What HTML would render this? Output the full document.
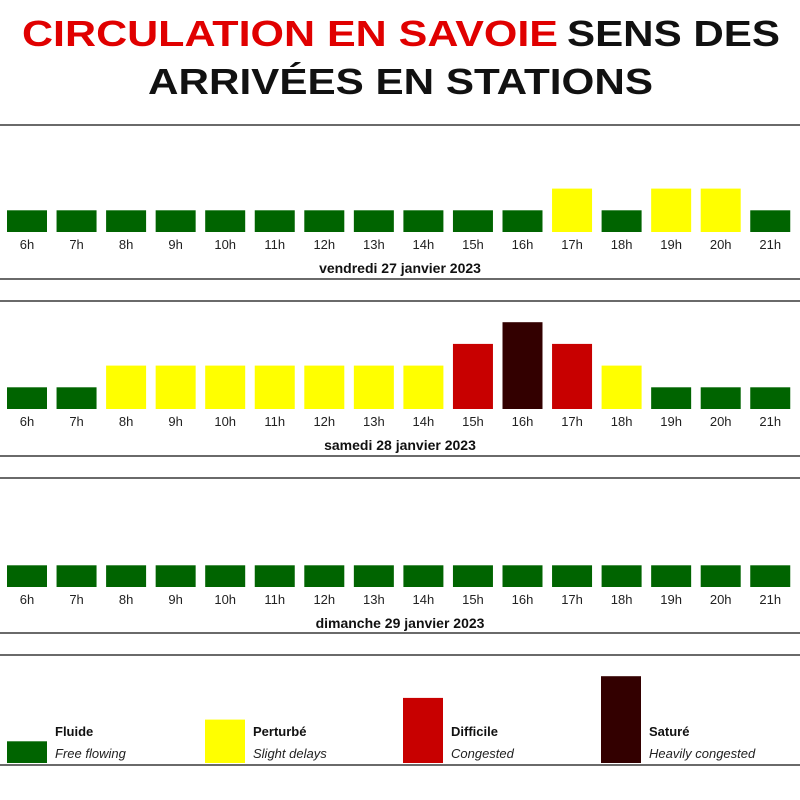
<!DOCTYPE html>
<html><head><meta charset="utf-8"><style>
html,body{margin:0;padding:0;background:#fff;}
svg{display:block;font-family:"Liberation Sans",Arial,sans-serif;}
</style></head><body>
<svg id="chart" width="800" height="800" viewBox="0 0 800 800">
<text x="22" y="46" font-size="36" font-weight="bold" fill="#e00000" textLength="536" lengthAdjust="spacingAndGlyphs">CIRCULATION EN SAVOIE</text>
<text x="567" y="46" font-size="36" font-weight="bold" fill="#111" textLength="213" lengthAdjust="spacingAndGlyphs">SENS DES</text>
<text x="148" y="94" font-size="36" font-weight="bold" fill="#111" textLength="505" lengthAdjust="spacingAndGlyphs">ARRIVÉES EN STATIONS</text>
<g id="g"></g>
</svg>
<script>
const hours = ["6h","7h","8h","9h","10h","11h","12h","13h","14h","15h","16h","17h","18h","19h","20h","21h"];
const dayLabels = ["vendredi 27 janvier 2023","samedi 28 janvier 2023","dimanche 29 janvier 2023"];
const friday = [1,1,1,1,1,1,1,1,1,1,1,2,1,2,2,1];
const saturday = [1,1,2,2,2,2,2,2,2,3,4,3,2,1,1,1];
const sunday = [1,1,1,1,1,1,1,1,1,1,1,1,1,1,1,1];
const levelNames = ["Fluide","Perturbé","Difficile","Saturé"];
const levelDescs = ["Free flowing","Slight delays","Congested","Heavily congested"];
const colors = ["#006400","#ffff00","#c80000","#330000"];

const NS="http://www.w3.org/2000/svg";
const g=document.getElementById('g');
function mk(tag,attrs,txt){const e=document.createElementNS(NS,tag);for(const k in attrs)e.setAttribute(k,attrs[k]);if(txt!=null)e.textContent=txt;g.appendChild(e);return e;}
const xPos=i=>7+i*49.55;
const barW=40;
const hScale=lv=>lv*21.7;

[[125,279],[301,456],[478,633],[655,765]].forEach((p,i)=>{
  p.forEach(y=>{const l=mk('line',{x1:0,x2:800,y1:y,y2:y,stroke:'#6a6a6a','stroke-width':2});
  
  });
});

const days=[friday,saturday,sunday];
const bases=[232,409,587];
days.forEach((vals,d)=>{
  const base=bases[d];
  vals.forEach((v,i)=>{
    const h=hScale(v);
    const r=mk('rect',{x:xPos(i),y:base-h,width:barW,height:h,fill:colors[v-1]});
    
    
    const t=mk('text',{x:xPos(i)+barW/2,y:base+17,'font-size':13,'text-anchor':'middle',fill:'#222'},hours[i]);
    
    
  });
  const dl=mk('text',{x:400,y:base+41,'font-size':14,'font-weight':'bold','text-anchor':'middle',fill:'#111'},dayLabels[d]);
  
  
});

levelNames.forEach((n,i)=>{
  const x=7+i*198,h=hScale(i+1);
  const r=mk('rect',{x:x,y:763-h,width:40,height:h,fill:colors[i]});
  
  
  const t1=mk('text',{x:x+48,y:736,'font-size':13,'font-weight':'bold',fill:'#111'},n);
  
  
  const t2=mk('text',{x:x+48,y:758,'font-size':13,'font-style':'italic',fill:'#222'},levelDescs[i]);
  
  
});
</script>
</body></html>
